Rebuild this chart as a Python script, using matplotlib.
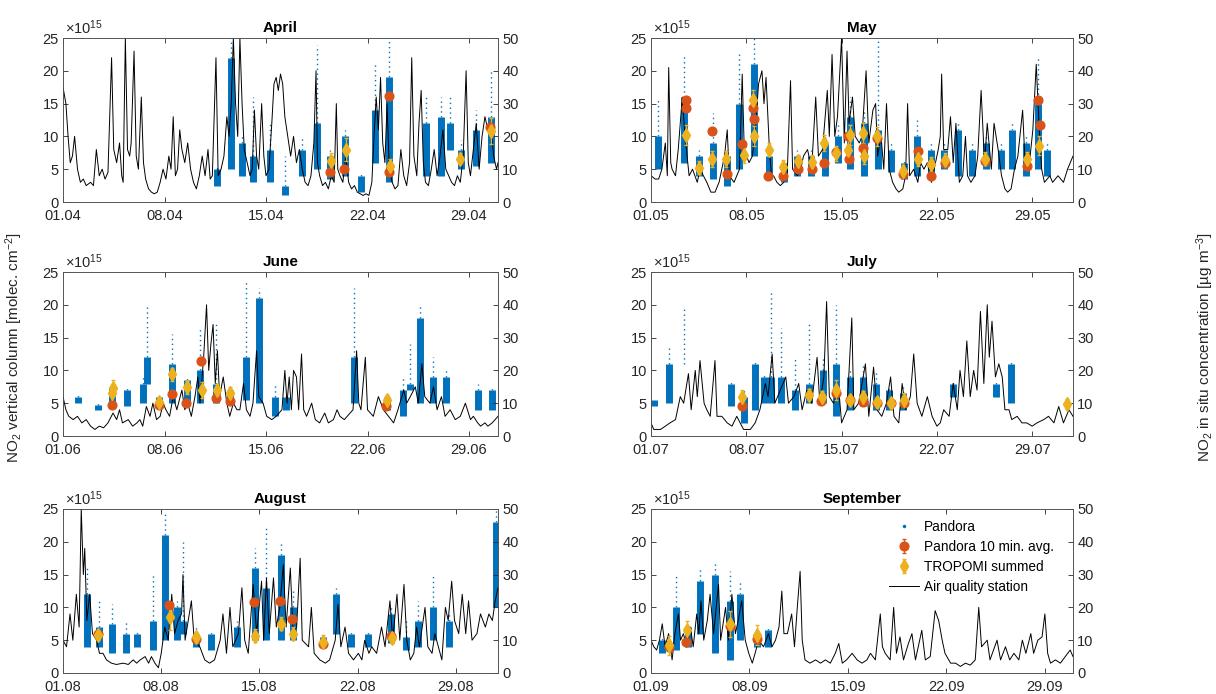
import numpy as np
import matplotlib
matplotlib.use("Agg")
import matplotlib.pyplot as plt
from matplotlib.lines import Line2D

plt.rcParams['font.family'] = ['Liberation Sans', 'DejaVu Sans']
plt.rcParams['mathtext.default'] = 'regular'
plt.rcParams['font.size'] = 10.5

BLUE = '#0072BD'
RED = '#D95319'
YELLOW = '#EDB120'
AXC = '#262626'

months = ['April', 'May', 'June', 'July', 'August', 'September']
month_num = [4, 5, 6, 7, 8, 9]
month_days = [30, 31, 30, 31, 31, 30]
tick_days = [1, 8, 15, 22, 29]

# air quality station, (day of month, NO2 ug/m3)
apr_aq = [(1.0, 35), (1.2, 30), (1.35, 20), (1.5, 12), (1.65, 14), (1.8, 20), (2.0, 10), (2.2, 6), (2.4, 7),
          (2.6, 5), (2.9, 6), (3.1, 5), (3.3, 16), (3.5, 8), (3.7, 10), (3.9, 7), (4.1, 9), (4.35, 44), (4.5, 16),
          (4.7, 12), (4.9, 18), (5.05, 8), (5.15, 6), (5.3, 50), (5.45, 16), (5.6, 14), (5.7, 18), (5.9, 46),
          (6.05, 14), (6.2, 10), (6.4, 32), (6.55, 12), (6.7, 7), (6.9, 4), (7.1, 3), (7.3, 2.5), (7.5, 3), (7.7, 6),
          (7.9, 10), (8.1, 7), (8.3, 14), (8.45, 10), (8.6, 26), (8.75, 8), (8.9, 10), (9.05, 22), (9.2, 16),
          (9.4, 12), (9.6, 18), (9.8, 10), (10.0, 6), (10.2, 4), (10.4, 8), (10.6, 14), (10.8, 8), (11.0, 16),
          (11.15, 7), (11.3, 8), (11.55, 44), (11.7, 8), (11.9, 10), (12.1, 14), (12.3, 26), (12.45, 20), (12.6, 30),
          (12.75, 50), (12.9, 30), (13.05, 20), (13.2, 50), (13.35, 30), (13.5, 16), (13.7, 12), (13.9, 8),
          (14.05, 10), (14.2, 28), (14.35, 14), (14.5, 10), (14.7, 30), (14.85, 14), (15.0, 8), (15.2, 10),
          (15.4, 24), (15.55, 36), (15.7, 38), (15.85, 34), (16.0, 39), (16.15, 36), (16.3, 26), (16.5, 20),
          (16.7, 14), (16.9, 20), (17.1, 12), (17.3, 16), (17.5, 10), (17.7, 6), (17.9, 5), (18.1, 8), (18.3, 18),
          (18.45, 40), (18.55, 12), (18.7, 8), (18.9, 5), (19.1, 6), (19.3, 4), (19.5, 8), (19.7, 6), (19.85, 30),
          (19.95, 10), (20.1, 8), (20.3, 6), (20.5, 14), (20.7, 6), (20.9, 4), (21.1, 5), (21.3, 3), (21.5, 2.5),
          (21.7, 2), (21.9, 2.5), (22.1, 2), (22.3, 6), (22.45, 20), (22.6, 32), (22.75, 22), (22.9, 38), (23.05, 18),
          (23.2, 12), (23.35, 30), (23.5, 10), (23.7, 6), (23.9, 4), (24.1, 5), (24.3, 16), (24.5, 8), (24.7, 5),
          (24.9, 12), (25.05, 44), (25.2, 14), (25.4, 8), (25.55, 24), (25.7, 34), (25.85, 12), (26.0, 6), (26.2, 5),
          (26.4, 10), (26.6, 16), (26.8, 8), (27.0, 14), (27.2, 22), (27.4, 10), (27.6, 8), (27.8, 6), (28.0, 5),
          (28.2, 8), (28.4, 6), (28.6, 14), (28.8, 40), (28.95, 12), (29.1, 8), (29.3, 16), (29.5, 24), (29.7, 10),
          (29.9, 20), (30.1, 26), (30.3, 22), (30.5, 24), (30.7, 14), (30.9, 10), (31.0, 12)]
may_aq = [(1.0, 8), (1.3, 7), (1.56, 7), (1.8, 10), (2.05, 18), (2.2, 8), (2.3, 41), (2.45, 12), (2.55, 10),
          (2.8, 8), (3.0, 16), (3.3, 32), (3.5, 20), (3.8, 8), (4.05, 10), (4.4, 6), (4.6, 10), (4.85, 8), (5.1, 6),
          (5.4, 3), (5.7, 3), (6.0, 6), (6.2, 10), (6.4, 14), (6.6, 22), (6.75, 8), (7.1, 6), (7.5, 10), (7.7, 39),
          (7.85, 16), (8.2, 12), (8.45, 14), (8.7, 24), (8.9, 36), (9.15, 40), (9.3, 30), (9.45, 38), (9.7, 16),
          (9.85, 8), (10.0, 8), (10.25, 6), (10.5, 5), (10.75, 6), (11.0, 8), (11.25, 37), (11.4, 10), (11.75, 8),
          (12.0, 10), (12.2, 14), (12.5, 16), (12.8, 10), (13.1, 32), (13.3, 14), (13.6, 16), (13.95, 34), (14.1, 20),
          (14.3, 45), (14.5, 20), (14.7, 26), (15.0, 50), (15.2, 18), (15.4, 46), (15.55, 24), (15.8, 32), (16.0, 20),
          (16.3, 18), (16.5, 20), (16.8, 40), (17.0, 18), (17.3, 28), (17.5, 30), (17.65, 14), (17.9, 20), (18.1, 10),
          (18.3, 30), (18.5, 10), (18.75, 6), (19.0, 4), (19.2, 3), (19.5, 4), (19.7, 8), (19.85, 30), (20.0, 8),
          (20.3, 10), (20.6, 6), (20.8, 12), (21.05, 10), (21.3, 12), (21.6, 6), (21.8, 10), (22.1, 16), (22.25, 20),
          (22.35, 39), (22.5, 16), (22.8, 16), (23.0, 26), (23.2, 12), (23.4, 24), (23.65, 6), (23.9, 8), (24.1, 20),
          (24.25, 8), (24.5, 6), (24.8, 8), (25.0, 14), (25.25, 34), (25.5, 12), (25.7, 24), (26.0, 10), (26.2, 24),
          (26.5, 16), (26.75, 8), (27.0, 4), (27.2, 3), (27.45, 4), (27.7, 10), (27.95, 14), (28.3, 28), (28.5, 10),
          (28.8, 12), (29.05, 22), (29.3, 42), (29.5, 24), (29.7, 10), (29.9, 6), (30.3, 8), (30.5, 6), (30.9, 8),
          (31.3, 6), (31.6, 10), (32.0, 14)]
jun_aq = [(1.0, 12), (1.2, 8), (1.4, 6), (1.7, 5), (2.0, 6), (2.3, 4), (2.6, 5), (2.9, 3), (3.2, 2), (3.5, 3),
          (3.8, 2.5), (4.1, 4), (4.45, 7), (4.7, 5), (4.9, 8), (5.1, 4), (5.5, 5), (5.8, 3), (6.1, 4), (6.3, 5),
          (6.5, 3), (6.75, 9), (7.0, 6), (7.2, 10), (7.45, 5), (7.7, 6), (7.9, 10), (8.1, 8), (8.35, 6), (8.6, 12),
          (8.85, 8), (9.2, 14), (9.4, 8), (9.6, 10), (9.85, 6), (10.1, 12), (10.3, 18), (10.45, 10), (10.7, 24),
          (10.9, 40), (11.05, 20), (11.2, 28), (11.35, 34), (11.5, 16), (11.65, 26), (11.8, 12), (12.05, 18),
          (12.3, 10), (12.5, 6), (12.75, 10), (13.0, 8), (13.2, 8), (13.45, 16), (13.65, 8), (13.9, 6), (14.1, 10),
          (14.35, 26), (14.5, 12), (14.8, 10), (15.05, 6), (15.4, 5), (15.7, 6), (16.1, 8), (16.3, 20), (16.45, 10),
          (16.6, 18), (16.75, 8), (16.9, 20), (17.1, 18), (17.25, 8), (17.45, 25), (17.6, 8), (17.8, 6), (18.15, 10),
          (18.4, 5), (18.7, 4), (19.05, 7), (19.3, 4), (19.65, 5), (19.9, 8), (20.1, 6), (20.4, 5), (20.6, 6),
          (21.0, 8), (21.25, 26), (21.4, 10), (21.55, 8), (21.85, 24), (22.0, 8), (22.4, 6), (22.75, 12), (23.1, 8),
          (23.45, 6), (23.8, 4), (24.1, 8), (24.5, 14), (24.7, 10), (24.95, 12), (25.3, 15), (25.5, 10), (25.75, 22),
          (25.95, 12), (26.3, 10), (26.55, 15), (26.8, 8), (27.1, 12), (27.35, 6), (27.7, 8), (28.05, 5), (28.4, 6),
          (28.75, 10), (29.1, 5), (29.3, 6), (29.6, 4), (29.8, 3), (30.1, 4), (30.3, 3), (30.6, 4), (31.0, 6)]
jul_aq = [(1.0, 4), (1.2, 2), (1.7, 2), (2.05, 3), (2.4, 4), (2.8, 5), (3.15, 12), (3.4, 10), (3.75, 19),
          (3.95, 8), (4.25, 20), (4.4, 12), (4.6, 23), (4.9, 10), (5.1, 8), (5.35, 6), (5.7, 23), (5.85, 6), (6.2, 6),
          (6.6, 4), (6.95, 3), (7.3, 6), (7.8, 2), (8.3, 2), (8.65, 4), (9.0, 8), (9.4, 16), (9.6, 12), (9.9, 25),
          (10.1, 10), (10.5, 14), (10.9, 18), (11.1, 10), (11.5, 12), (11.85, 16), (12.1, 8), (12.45, 14), (12.8, 10),
          (13.2, 24), (13.4, 10), (13.7, 18), (13.9, 41), (14.1, 12), (14.4, 10), (14.8, 14), (15.0, 4), (15.4, 8),
          (15.75, 36), (15.9, 8), (16.25, 10), (16.5, 16), (16.75, 22), (17.0, 6), (17.35, 21), (17.6, 8), (17.95, 6),
          (18.3, 10), (18.6, 18), (18.85, 6), (19.2, 4), (19.45, 16), (19.7, 8), (20.05, 12), (20.3, 25), (20.55, 10),
          (20.9, 6), (21.3, 12), (21.65, 6), (22.0, 3), (22.25, 4), (22.5, 8), (22.9, 6), (23.2, 16), (23.5, 8),
          (23.7, 20), (23.95, 12), (24.2, 29), (24.45, 12), (24.7, 20), (24.95, 14), (25.2, 38), (25.45, 16),
          (25.7, 40), (25.85, 24), (26.05, 35), (26.3, 18), (26.55, 22), (26.8, 18), (27.0, 8), (27.3, 8), (27.5, 5),
          (27.9, 6), (28.25, 4), (28.6, 4), (29.0, 3), (29.35, 4), (29.85, 5), (30.2, 6), (30.6, 4), (30.95, 9),
          (31.3, 4), (31.7, 8), (32.0, 6)]
aug_aq = [(1.0, 10), (1.25, 8), (1.5, 18), (1.7, 10), (1.95, 24), (2.15, 14), (2.3, 50), (2.45, 30), (2.55, 38),
          (2.7, 16), (2.9, 24), (3.1, 12), (3.4, 10), (3.6, 6), (3.85, 6), (4.1, 4), (4.45, 3), (4.8, 2.6), (5.3, 3),
          (5.65, 2.6), (6.0, 4), (6.25, 3), (6.5, 4), (6.85, 5), (7.1, 3), (7.3, 5), (7.55, 3), (7.8, 1.6), (8.0, 6),
          (8.25, 14), (8.5, 10), (8.75, 24), (8.95, 12), (9.2, 16), (9.45, 18), (9.55, 30), (9.7, 10), (10.15, 22),
          (10.35, 10), (10.75, 8), (11.1, 4), (11.45, 3), (11.8, 4), (12.2, 10), (12.4, 18), (12.65, 6), (12.9, 20),
          (13.1, 8), (13.5, 12), (13.75, 26), (13.95, 10), (14.2, 6), (14.55, 27), (14.8, 12), (15.15, 28), (15.3, 10),
          (15.5, 29), (15.7, 12), (16.0, 29), (16.2, 14), (16.45, 20), (16.7, 33), (16.9, 14), (17.2, 32), (17.4, 12),
          (17.65, 14), (17.9, 35), (18.05, 10), (18.5, 8), (18.7, 20), (18.9, 6), (19.3, 4), (19.7, 3), (20.0, 4),
          (20.4, 10), (20.6, 21), (20.8, 8), (21.1, 14), (21.35, 6), (21.7, 4), (22.05, 6), (22.3, 4), (22.5, 10),
          (22.8, 6), (23.0, 8), (23.35, 6), (23.7, 14), (23.95, 8), (24.3, 22), (24.5, 10), (24.8, 24), (25.0, 10),
          (25.3, 27), (25.5, 10), (25.75, 4), (26.0, 6), (26.2, 14), (26.4, 8), (26.8, 20), (27.0, 8), (27.3, 6),
          (27.5, 12), (27.75, 8), (28.0, 4), (28.25, 20), (28.45, 16), (28.7, 28), (28.9, 16), (29.2, 12),
          (29.45, 24), (29.7, 12), (29.9, 22), (30.15, 10), (30.5, 12), (30.75, 18), (31.1, 14), (31.35, 18),
          (31.6, 16), (31.8, 22), (32.0, 26)]
sep_aq = [(1.0, 10), (1.2, 8), (1.4, 7), (1.6, 10), (1.8, 15), (2.0, 8), (2.25, 12), (2.5, 4), (2.7, 12),
          (2.95, 18), (3.1, 10), (3.3, 12), (3.55, 8), (3.8, 14), (4.0, 8), (4.25, 18), (4.4, 12), (4.55, 22),
          (4.75, 10), (5.0, 16), (5.2, 24), (5.45, 12), (5.8, 27), (5.95, 10), (6.3, 20), (6.5, 10), (6.75, 24),
          (7.0, 12), (7.2, 16), (7.45, 22), (7.7, 10), (7.95, 6), (8.2, 3), (8.4, 6), (8.65, 10), (9.0, 8), (9.35, 12),
          (9.6, 8), (9.85, 10), (10.1, 14), (10.3, 25), (10.45, 12), (10.7, 12), (11.0, 18), (11.2, 8), (11.4, 20),
          (11.6, 31), (11.75, 10), (11.95, 4), (12.3, 3), (12.7, 4), (13.05, 3), (13.4, 4), (13.75, 3), (14.1, 6),
          (14.35, 9), (14.6, 3), (14.9, 4), (15.3, 6), (15.65, 4), (16.0, 3), (16.35, 4), (16.6, 6), (16.95, 4),
          (17.3, 18), (17.45, 8), (17.65, 6), (18.0, 4), (18.25, 20), (18.45, 6), (18.7, 11), (18.95, 4), (19.3, 9),
          (19.55, 12), (19.8, 4), (20.0, 8), (20.25, 13), (20.5, 4), (20.85, 5), (21.2, 19), (21.45, 16), (21.7, 10),
          (21.9, 6), (22.3, 3), (22.65, 3), (23.0, 2), (23.35, 3), (23.7, 2.4), (24.05, 4), (24.3, 20), (24.5, 8),
          (24.9, 10), (25.1, 4), (25.35, 7), (25.6, 10), (25.85, 4), (26.2, 8), (26.5, 4), (26.8, 6), (27.15, 4),
          (27.4, 10), (27.65, 6), (28.0, 12), (28.2, 6), (28.5, 10), (28.8, 11), (29.0, 18), (29.2, 6), (29.4, 3),
          (29.75, 4), (30.1, 3), (30.45, 5), (30.8, 7), (31.0, 5)]

# Pandora daily streaks, 1e15 molec/cm2: (day, dense low, dense high, sparse max)
apr_pan = [(11.65, 2.5, 5, 5.5), (12.6, 5, 22, 25), (13.35, 4, 9, 10), (14.1, 3, 7, 16), (15.3, 3, 8, 12),
           (16.3, 1, 2.5, 7), (17.5, 4, 8, 10), (18.55, 5, 12, 24), (19.4, 3.5, 7, 8), (20.45, 4, 10, 11),
           (21.55, 1.5, 4, 4.5), (22.5, 6, 14, 21), (23.45, 3, 19, 25), (26.0, 4, 12, 16), (27.05, 4, 13, 16),
           (27.7, 8, 12, 16), (28.45, 5, 8, 9.5), (29.45, 5.5, 11, 14), (30.55, 6, 13, 20)]
may_pan = [(1.5, 5, 10, 15.5), (3.45, 6, 16, 22.5), (4.55, 4, 7, 8), (5.55, 3.5, 9, 13.5), (6.6, 2.5, 7, 8),
           (7.5, 5, 15, 22.5), (8.55, 7, 21, 25), (9.65, 3.5, 7, 8), (10.75, 3, 6, 6.5), (11.75, 4, 7, 8),
           (12.75, 4, 7, 8), (13.75, 4, 9, 10), (14.75, 6, 10, 12), (15.65, 5, 13, 16), (16.65, 4, 12, 14),
           (17.65, 5, 11, 25), (18.65, 4.5, 8, 9), (19.55, 3.5, 6, 6.5), (20.55, 4, 10, 13), (21.55, 3.5, 8, 9),
           (22.55, 5, 8, 9), (23.55, 4, 11, 12), (24.55, 4, 8, 9), (25.6, 5, 9, 10), (26.7, 5, 8, 9),
           (27.55, 5, 11, 12), (28.55, 4, 9, 10), (29.4, 5, 15, 22), (30.1, 4, 8, 9)]
jun_pan = [(2.0, 5, 6, 6.5), (3.4, 4, 4.8, 5), (4.4, 4.5, 7.5, 8), (5.4, 4.5, 7, 7.5), (6.5, 5, 8, 9),
           (6.8, 8, 12, 20), (7.65, 4.5, 6, 6.5), (8.55, 5, 11, 15.5), (9.55, 4.5, 8.5, 9), (10.45, 5, 10, 16.5),
           (11.55, 5, 8, 17), (12.55, 5, 7, 7.5), (13.6, 5.5, 12, 23.5), (14.5, 5, 21, 22.5), (15.65, 3, 6, 8),
           (16.4, 4, 6, 6.5), (21.1, 5, 12, 22.5), (23.35, 4, 6, 6.5), (24.45, 3, 7, 9), (24.95, 7, 8, 14),
           (25.6, 5, 18, 20), (26.55, 5, 9, 12), (27.4, 5, 9, 10), (29.6, 4, 7, 8), (30.6, 4, 7, 7.5)]
jul_pan = [(1.25, 4.5, 5.5, 5.5), (2.35, 5, 11, 13.5), (3.45, 11, 11, 19.5), (6.85, 4.5, 8, 8.5), (7.8, 2, 6, 7),
           (8.65, 4, 11, 11.5), (9.3, 5, 9, 9.5), (9.8, 5, 9, 22), (10.55, 5, 9, 16.5), (11.6, 4, 7, 12),
           (12.6, 5, 8, 17), (13.6, 5, 10, 12), (14.6, 3, 11, 20), (15.6, 4, 9, 10), (16.6, 4.5, 9, 11),
           (17.55, 4, 8, 10), (18.5, 4, 7, 7.5), (19.5, 4, 6.5, 7.5), (23.2, 6, 8, 8.5), (26.35, 6, 8, 8.5),
           (27.45, 5, 11, 11.5)]
aug_pan = [(2.7, 4, 12, 16.5), (3.55, 4, 7, 11), (4.5, 3, 7.5, 10.5), (5.5, 3, 6, 8), (6.3, 4, 6, 6.5),
           (7.4, 3.5, 8, 15), (8.3, 5, 21, 24.5), (9.1, 5, 10, 11), (9.55, 6, 8, 20), (10.5, 4, 6, 7),
           (11.55, 3.5, 6, 6.5), (13.4, 4, 7, 8), (14.65, 5, 16, 19), (15.45, 5, 13, 22.5), (16.5, 5, 18, 20),
           (17.4, 5, 10, 13), (19.55, 4, 5.5, 6), (20.45, 6, 12, 13), (21.55, 4, 6, 6.5), (22.75, 4, 6, 6.5),
           (24.4, 4.5, 9, 10), (25.45, 3.5, 5.5, 8), (26.3, 4, 8, 11), (27.4, 5, 10, 15), (28.5, 4, 8, 9),
           (31.85, 10, 23, 25)]
sep_pan = [(1.75, 3, 5, 5.5), (2.75, 3.5, 10, 15.3), (3.6, 4, 7, 7.5), (4.5, 6, 14, 16), (5.55, 3, 15, 17),
           (6.6, 2, 11, 15.5), (7.35, 5, 12, 14), (8.55, 4, 6, 6.5), (9.35, 4, 6.5, 7)]

# Pandora 10 min. averages at overpass: (day, value, error)
apr_avg = [(19.4, 4.6, 0.4), (20.4, 5.0, 0.4), (23.45, 16.2, 0.6), (23.5, 4.6, 0.4), (30.45, 11.5, 0.6)]
may_avg = [(3.55, 14.3, 0.5), (3.6, 15.5, 0.5), (5.45, 10.8, 0.5), (6.55, 4.2, 0.5), (7.7, 8.8, 0.5),
           (8.5, 14.3, 0.5), (8.55, 12.6, 0.5), (9.6, 4.0, 0.4), (10.7, 3.9, 0.4), (11.8, 5.0, 0.4), (12.8, 5.0, 0.4),
           (13.7, 6.0, 0.5), (14.6, 7.6, 0.5), (15.5, 10.0, 0.5), (15.55, 6.6, 0.5), (16.6, 8.2, 0.5),
           (17.6, 9.7, 0.5), (19.5, 4.3, 0.4), (20.6, 7.8, 0.5), (21.6, 4.0, 0.4), (22.6, 6.0, 0.4), (25.5, 6.2, 0.4),
           (28.6, 5.5, 0.4), (29.45, 15.5, 0.5), (29.55, 11.8, 0.5)]
jun_avg = [(4.35, 4.7, 0.4), (7.6, 4.8, 0.4), (8.5, 6.4, 0.4), (9.5, 5.0, 0.4), (10.55, 11.5, 0.5),
           (11.55, 5.8, 0.4), (12.5, 5.4, 0.4), (23.3, 4.6, 0.4)]
jul_avg = [(7.7, 4.5, 0.4), (13.5, 5.4, 0.4), (14.6, 6.5, 0.4), (15.6, 5.5, 0.4), (16.6, 5.2, 0.4),
           (17.6, 5.0, 0.4), (18.6, 5.0, 0.4), (19.6, 5.0, 0.4)]
aug_avg = [(3.5, 6.0, 0.4), (8.55, 10.3, 0.5), (10.5, 5.2, 0.4), (14.6, 10.8, 0.5), (16.5, 11.0, 0.5),
           (17.35, 8.3, 0.5), (19.5, 4.4, 0.4), (24.4, 5.6, 0.4)]
sep_avg = [(2.3, 4.0, 0.4), (3.5, 4.8, 0.4), (6.6, 7.2, 0.5), (8.5, 5.2, 0.4)]

# TROPOMI summed columns: (day, value, error)
apr_tro = [(19.45, 6.3, 1.2), (20.5, 8.0, 1.8), (23.55, 5.5, 1.0), (28.4, 6.6, 0.8), (30.5, 10.8, 2.0)]
may_tro = [(3.6, 10.2, 1.5), (4.5, 5.2, 1.0), (5.5, 6.6, 1.2), (6.5, 6.6, 1.2), (7.8, 7.2, 1.2), (8.5, 15.5, 1.5),
           (8.55, 10.1, 1.5), (9.7, 8.0, 1.0), (10.7, 5.4, 1.0), (11.8, 6.2, 1.0), (12.8, 6.1, 1.0), (13.7, 9.0, 1.2),
           (14.6, 7.4, 1.2), (15.5, 8.0, 1.5), (15.6, 10.2, 1.5), (16.6, 10.5, 1.5), (16.65, 7.0, 1.2),
           (17.6, 10.0, 1.5), (19.5, 4.8, 0.8), (20.6, 6.5, 1.0), (21.6, 5.8, 1.0), (22.6, 6.4, 1.0), (25.5, 6.6, 1.0),
           (28.6, 6.6, 1.0), (29.5, 8.6, 1.5)]
jun_tro = [(4.4, 6.5, 1.2), (4.45, 7.3, 1.2), (7.65, 5.2, 0.8), (8.55, 9.4, 1.0), (9.55, 7.4, 1.0),
           (10.6, 7.0, 1.2), (11.6, 7.0, 1.0), (12.55, 6.6, 0.8), (23.35, 5.5, 0.8)]
jul_tro = [(7.7, 6.0, 1.0), (12.6, 6.3, 0.8), (13.55, 6.0, 0.8), (14.6, 7.0, 1.5), (15.6, 5.5, 0.8),
           (16.6, 6.0, 0.8), (17.6, 5.2, 0.8), (18.6, 5.0, 0.8), (19.6, 5.5, 1.0), (31.55, 4.9, 0.8)]
aug_tro = [(3.5, 5.8, 0.8), (8.6, 8.5, 2.0), (10.5, 5.5, 0.8), (14.65, 5.7, 1.0), (16.55, 7.5, 1.0),
           (17.4, 6.0, 1.0), (19.55, 4.8, 1.0), (24.45, 5.3, 0.8)]
sep_tro = [(2.3, 4.2, 1.5), (3.55, 6.5, 1.5), (6.65, 7.5, 2.0), (8.55, 5.8, 1.5)]

aq_all = [apr_aq, may_aq, jun_aq, jul_aq, aug_aq, sep_aq]
pan_all = [apr_pan, may_pan, jun_pan, jul_pan, aug_pan, sep_pan]
avg_all = [apr_avg, may_avg, jun_avg, jul_avg, aug_avg, sep_avg]
tro_all = [apr_tro, may_tro, jun_tro, jul_tro, aug_tro, sep_tro]

W, H = 1216, 694
# (left px, top px, width px) of each panel
boxes = [(63, 38, 435), (651, 38, 422), (63, 272, 435), (651, 272, 422), (63, 509, 435), (651, 509, 422)]
ph = 164

fig = plt.figure(figsize=(W / 100, H / 100), dpi=100)

for i, name in enumerate(months):
    l, t, w = boxes[i]
    ax = fig.add_axes([l / W, 1 - (t + ph) / H, w / W, ph / H])
    ax2 = ax.twinx()
    ax3 = ax.twinx()
    ax.set_zorder(1)
    ax2.set_zorder(2)
    ax3.set_zorder(3)
    ax2.patch.set_visible(False)
    ax3.patch.set_visible(False)

    pan = np.array(pan_all[i], dtype=float)
    ax.vlines(pan[:, 0], pan[:, 1], pan[:, 2], color=BLUE, lw=5)
    ax.vlines(pan[:, 0], pan[:, 2], pan[:, 3], color=BLUE, lw=1.0, linestyles=(0, (1, 2.5)))

    aq = np.array(aq_all[i], dtype=float)
    ax2.plot(aq[:, 0], aq[:, 1], color='k', lw=0.7)

    avg = np.array(avg_all[i], dtype=float)
    tro = np.array(tro_all[i], dtype=float)
    h_avg = ax3.errorbar(avg[:, 0], avg[:, 1], yerr=avg[:, 2], fmt='o', color=RED, ms=6.3,
                         elinewidth=0.9, capsize=1.5)
    h_tro = ax3.errorbar(tro[:, 0], tro[:, 1], yerr=tro[:, 2], fmt='d', color=YELLOW, ms=6.8,
                         elinewidth=0.9, capsize=1.5)

    nd = month_days[i]
    for a in (ax, ax2, ax3):
        a.set_xlim(1, nd + 1)
    ax.set_ylim(0, 25)
    ax3.set_ylim(0, 25)
    ax2.set_ylim(0, 50)
    ax3.axis('off')

    ax.set_xticks(tick_days)
    ax.set_xticklabels([f"{d:02d}.{month_num[i]:02d}" for d in tick_days])
    ax.set_yticks([0, 5, 10, 15, 20, 25])
    ax2.set_yticks([0, 10, 20, 30, 40, 50])
    ax.tick_params(direction='in', top=True, right=False, length=3.5, width=0.6, colors=AXC,
                   labelsize=10.5, pad=3)
    ax.tick_params(axis='x', pad=5)
    ax2.tick_params(direction='in', length=3.5, width=0.6, colors=AXC, labelsize=10.5, pad=3)
    for a in (ax, ax2):
        for s in a.spines.values():
            s.set_color('#555555')
            s.set_linewidth(0.6)

    ax.set_title(name, fontweight='bold', fontsize=11, pad=4, color='k')
    ax.text(0.005, 1.005, '×10$^{15}$', transform=ax.transAxes, ha='left', va='bottom',
            fontsize=10.5, color=AXC)

    if name == 'September':
        handles = [Line2D([], [], ls='none', marker='.', ms=3, color=BLUE), h_avg, h_tro,
                   Line2D([], [], color='k', lw=0.7)]
        labels = ['Pandora', 'Pandora 10 min. avg.', 'TROPOMI summed', 'Air quality station']
        ax3.legend(handles, labels, loc='upper right', bbox_to_anchor=(0.975, 0.985), frameon=False,
                   fontsize=9.8, handlelength=2.2, handletextpad=0.4, labelspacing=0.45,
                   borderaxespad=0.2)

fig.text(0.012, 0.5, 'NO$_2$ vertical column [molec. cm$^{-2}$]', rotation=90,
         ha='center', va='center', fontsize=11, color=AXC)
fig.text(0.991, 0.5, 'NO$_2$ in situ concentration [µg m$^{-3}$]', rotation=90,
         ha='center', va='center', fontsize=11, color=AXC)

fig.savefig('out.png', dpi=100)
